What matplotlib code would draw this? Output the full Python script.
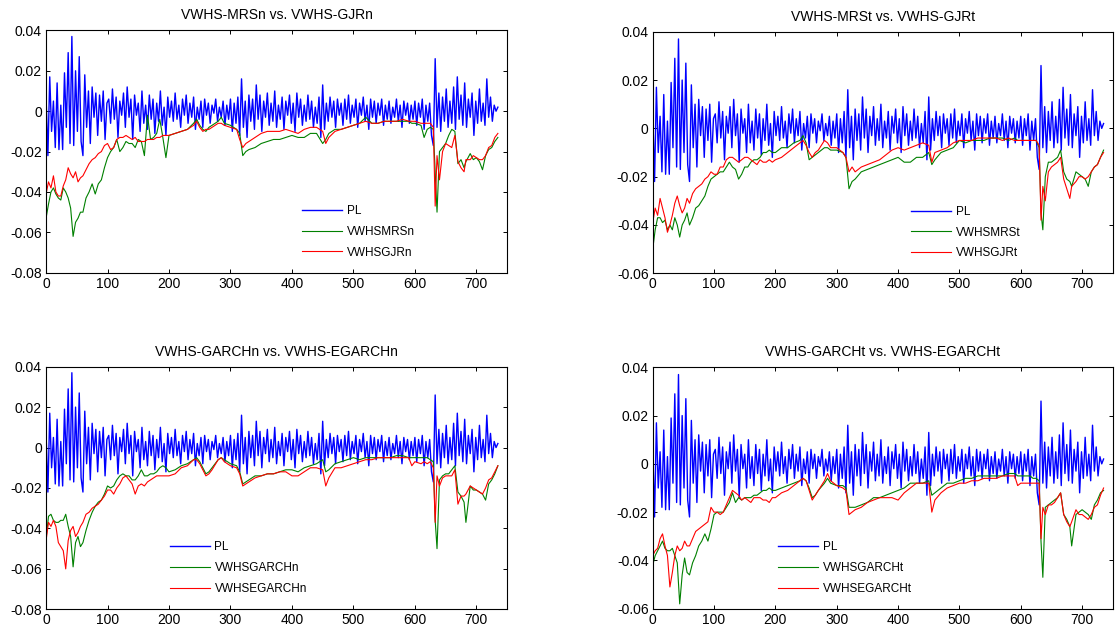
import numpy as np
import matplotlib
matplotlib.use('Agg')
from matplotlib import pyplot as plt
from matplotlib.ticker import FuncFormatter

plt.rcParams['font.family'] = ['Liberation Sans', 'DejaVu Sans']

# values are in units of 0.001

# portfolio P&L, sampled every third day
PL = [
    7, -22, 17, -10, 5, -18, 14, -19, 3, -19, 19, -8, 29, -16, 37, -17, 20,
    -10, 27, -15, -22, 18, -8, 10, -16, 12, -3, 9, -12, 8, -5, 10, -14, 4,
    6, -6, 11, -4, 7, -13, 5, -2, 9, -8, 12, -3, 6, -14, 8, -2, 4, -10, 10,
    -6, 3, -9, 8, -4, 6, -11, 4, -5, 10, -7, 2, -12, 7, -3, 5, -5, 9, -4, 3,
    -8, 6, -2, 8, -6, 4, -3, 7, -9, 2, -4,
    5, -8, 6, -2, 4, -6, 3, -1, 6, -5, 2, -3, 5, -7, 3, -4, 6, -10, 4, -6,
    7, -12, 16, -8, 5, -13, 8,
    -5, 6, -9, 13, -4, 8, -10, 5, -3, 9, -7, 4, -5, 10, -8, 3, -4, 7, -9, 5,
    -2, 8, -6, 4, -10, 9, -3, 6, -7, 3, -5, 8, -4, 5, -8, 2, -6, 7, -13, 13,
    -9, 4, -5, 7, -3, 5, -8, 6, -2, 4, -7, 6, -4, 8, -6, 3, -3, 6, -8, 4,
    -2, 7, -5, 3, -9, 6, -3, 5, -6, 4, -2, 6, -7, 3, -4, 5, -6, 2, -3, 6,
    -5, 3, -8, 5, -2, 4, -6, 3, -4, 5,
    -7, 4, -3, 6, -9, 3, -5, 4, -12, -17, 26, -8, 9, -10, 7, -5, 11, -8, 5,
    -6, 12, -9, 17, -4, 8, -7, 14, -8, 6, -3, 9, -12, 5, -6, 11, -5, 4, -7,
    16, -3, 7, -5, 3, 0, 2,
]

VAR_DAYS = [
    0, 4, 8, 12, 16, 20, 24, 28, 32, 36,
    40, 44, 48, 52, 56, 60, 65, 70, 75, 80,
    85, 90, 95, 100, 105, 110, 115, 120, 125, 130,
    135, 140, 145, 150, 155, 160, 165, 170, 175, 180,
    185, 190, 195, 200, 210, 220, 230, 240, 245, 250,
    255, 260, 265, 270, 280, 285, 290, 300, 310, 315,
    320, 325, 330, 340, 350, 360, 370, 380, 390, 400,
    410, 420, 430, 440, 450, 455, 460, 470, 480, 490,
    500, 510, 520, 530, 540, 550, 560, 570, 580, 590,
    595, 600, 610, 615, 620, 625, 630, 633, 636, 640,
    645, 650, 655, 660, 665, 670, 675, 680, 683, 690,
    695, 700, 705, 710, 715, 720, 725, 730, 735,
]

VWHS_MRSN = [
    -53, -46, -40, -38, -41, -43, -44, -38, -40, -43,
    -48, -62, -55, -53, -50, -50, -43, -40, -36, -41,
    -36, -34, -28, -23, -20, -18, -14, -20, -18, -15,
    -16, -16, -18, -14, -15, -22, -2, -14, -13, -11,
    -4, -13, -23, -12, -11, -10, -9, -6, -4, -7,
    -9, -10, -8, -7, -5, -3, -6, -7, -9, -11,
    -22, -20, -19, -18, -16, -15, -14, -14, -13, -12,
    -13, -13, -11, -11, -16, -14, -11, -9, -9, -8,
    -7, -6, -3, -6, -6, -5, -5, -5, -5, -5,
    -6, -6, -7, -13, -9, -8, -9, -30, -50, -20,
    -18, -16, -12, -9, -10, -26, -24, -28, -25, -21,
    -24, -23, -25, -29, -22, -19, -18, -15, -13,
]
VWHS_GJRN = [
    -41, -35, -38, -32, -40, -42, -42, -37, -34, -28,
    -31, -33, -30, -35, -33, -32, -29, -26, -24, -23,
    -21, -20, -17, -16, -19, -18, -14, -13, -13, -12,
    -13, -14, -13, -15, -15, -15, -14, -14, -14, -13,
    -13, -12, -12, -12, -11, -10, -9, -7, -5, -8,
    -10, -9, -9, -8, -6, -6, -7, -8, -9, -14,
    -18, -16, -15, -13, -11, -10, -10, -10, -9, -10,
    -11, -9, -8, -8, -10, -16, -13, -10, -9, -8,
    -7, -6, -5, -6, -6, -5, -5, -5, -4, -5,
    -5, -5, -6, -6, -6, -6, -8, -47, -22, -34,
    -20, -16, -17, -18, -12, -25, -28, -30, -24, -24,
    -22, -23, -24, -24, -22, -18, -17, -13, -11,
]
VWHS_MRST = [
    -50, -42, -37, -37, -39, -38, -42, -40, -42, -37,
    -40, -45, -40, -38, -35, -40, -37, -33, -32, -30,
    -28, -24, -21, -20, -19, -18, -18, -16, -14, -16,
    -17, -21, -19, -16, -16, -14, -13, -13, -12, -10,
    -10, -9, -10, -10, -8, -8, -6, -5, -3, -6,
    -13, -12, -11, -10, -8, -8, -9, -9, -10, -12,
    -25, -22, -21, -18, -17, -16, -15, -14, -13, -12,
    -14, -14, -12, -12, -10, -15, -13, -10, -9, -8,
    -5, -6, -5, -5, -5, -4, -4, -4, -5, -4,
    -5, -5, -5, -5, -5, -5, -8, -35, -42, -20,
    -14, -14, -13, -12, -9, -18, -21, -22, -24, -18,
    -19, -20, -21, -24, -18, -16, -15, -12, -9,
]
VWHS_GJRT = [
    -39, -33, -36, -29, -33, -37, -43, -40, -36, -31,
    -28, -32, -35, -33, -29, -31, -27, -25, -24, -23,
    -21, -20, -18, -19, -19, -16, -16, -13, -12, -12,
    -13, -14, -13, -12, -12, -13, -14, -15, -13, -14,
    -14, -13, -14, -13, -12, -10, -8, -6, -5, -7,
    -10, -12, -10, -9, -5, -6, -8, -8, -10, -12,
    -18, -16, -18, -16, -15, -14, -13, -11, -9, -8,
    -9, -8, -7, -6, -7, -14, -10, -9, -8, -6,
    -5, -5, -5, -4, -4, -4, -4, -5, -4, -5,
    -5, -5, -5, -5, -5, -5, -7, -38, -24, -30,
    -18, -16, -15, -14, -12, -21, -25, -29, -24, -22,
    -20, -20, -21, -20, -18, -16, -15, -12, -10,
]
VWHS_GARCHN = [
    -45, -34, -33, -36, -37, -37, -36, -36, -33, -39,
    -44, -59, -47, -44, -49, -47, -41, -36, -32, -29,
    -27, -26, -23, -19, -20, -19, -16, -14, -13, -14,
    -14, -16, -16, -14, -11, -14, -14, -13, -13, -12,
    -10, -9, -10, -12, -11, -9, -8, -6, -5, -7,
    -10, -13, -12, -10, -6, -5, -6, -8, -9, -12,
    -18, -17, -16, -14, -14, -13, -13, -12, -11, -11,
    -12, -10, -9, -8, -6, -12, -11, -8, -7, -6,
    -5, -6, -5, -5, -5, -5, -5, -4, -4, -5,
    -5, -5, -5, -5, -5, -6, -7, -36, -50, -16,
    -14, -13, -13, -11, -9, -22, -24, -27, -37, -19,
    -21, -21, -22, -23, -26, -18, -16, -13, -9,
]
VWHS_EGARCHN = [
    -46, -37, -39, -36, -39, -47, -49, -51, -60, -46,
    -41, -39, -44, -42, -39, -37, -33, -32, -30, -29,
    -28, -26, -24, -21, -21, -23, -20, -18, -15, -14,
    -16, -18, -23, -19, -18, -19, -17, -16, -15, -14,
    -14, -14, -14, -14, -13, -10, -9, -6, -6, -8,
    -11, -14, -13, -11, -6, -5, -7, -9, -10, -13,
    -19, -18, -17, -15, -14, -13, -13, -12, -12, -14,
    -14, -12, -10, -10, -11, -19, -15, -10, -10, -9,
    -8, -7, -6, -6, -5, -5, -5, -5, -5, -5,
    -9, -7, -8, -7, -8, -7, -10, -37, -14, -19,
    -15, -14, -14, -14, -11, -28, -24, -24, -23, -19,
    -20, -21, -22, -23, -20, -16, -15, -12, -9,
]
VWHS_GARCHT = [
    -42, -38, -36, -34, -32, -35, -36, -36, -35, -38,
    -41, -58, -46, -39, -45, -46, -41, -38, -34, -32,
    -29, -32, -27, -21, -20, -20, -20, -18, -16, -12,
    -16, -14, -15, -14, -14, -14, -13, -13, -12, -11,
    -11, -10, -11, -11, -10, -9, -8, -7, -6, -7,
    -10, -14, -13, -11, -8, -6, -8, -9, -9, -10,
    -18, -18, -18, -17, -16, -14, -14, -13, -12, -11,
    -10, -8, -8, -8, -7, -13, -12, -10, -8, -8,
    -7, -6, -6, -5, -5, -5, -5, -5, -4, -4,
    -5, -5, -5, -5, -6, -6, -7, -32, -47, -18,
    -17, -16, -15, -14, -12, -21, -23, -26, -34, -21,
    -20, -19, -20, -21, -23, -17, -15, -12, -11,
]
VWHS_EGARCHT = [
    -38, -36, -35, -31, -29, -34, -38, -51, -45, -38,
    -34, -36, -35, -32, -34, -34, -31, -28, -27, -26,
    -25, -24, -18, -20, -20, -21, -20, -17, -14, -11,
    -12, -13, -15, -14, -15, -16, -14, -14, -14, -15,
    -15, -16, -14, -14, -12, -11, -9, -7, -6, -7,
    -11, -15, -13, -11, -7, -4, -7, -9, -10, -11,
    -21, -20, -19, -18, -16, -15, -14, -14, -14, -15,
    -12, -10, -8, -8, -8, -20, -15, -12, -10, -9,
    -8, -8, -7, -7, -6, -6, -6, -5, -5, -5,
    -9, -8, -8, -8, -8, -8, -8, -31, -18, -21,
    -17, -17, -16, -14, -12, -21, -24, -26, -24, -19,
    -21, -21, -22, -23, -21, -18, -17, -13, -10,
]

TITLES = ['VWHS-MRSn vs. VWHS-GJRn', 'VWHS-MRSt vs. VWHS-GJRt',
          'VWHS-GARCHn vs. VWHS-EGARCHn', 'VWHS-GARCHt vs. VWHS-EGARCHt']
LABELS = [('VWHSMRSn', 'VWHSGJRn'), ('VWHSMRSt', 'VWHSGJRt'),
          ('VWHSGARCHn', 'VWHSEGARCHn'), ('VWHSGARCHt', 'VWHSEGARCHt')]
SERIES = [(VWHS_MRSN, VWHS_GJRN), (VWHS_MRST, VWHS_GJRT),
          (VWHS_GARCHN, VWHS_EGARCHN), (VWHS_GARCHT, VWHS_EGARCHT)]

# layout: axes rectangles, y ranges and legend anchors
RECTS = [[0.0413, 0.565, 0.4135, 0.3865], [0.5854, 0.5641, 0.4126, 0.3853],
         [0.0413, 0.0282, 0.4135, 0.387], [0.5854, 0.0292, 0.4126, 0.385]]
YLIMS = [(-0.08, 0.04), (-0.06, 0.04), (-0.08, 0.04), (-0.06, 0.04)]
LEG_X = [0.555, 0.562, 0.268, 0.273]


def draw_panel(fig, rect, title, labels, series, ylim, leg_x):
    ax = fig.add_axes(rect)
    pl = np.array(PL) / 1000
    days = np.arange(len(pl)) * 3
    ax.plot(days, pl, color='#0000ff', lw=1.0, label='PL')
    ax.plot(VAR_DAYS, np.array(series[0]) / 1000, color='#008000', lw=0.8, label=labels[0])
    ax.plot(VAR_DAYS, np.array(series[1]) / 1000, color='#ff0000', lw=0.8, label=labels[1])

    ax.set_xlim(0, 750)
    ax.set_ylim(*ylim)
    ax.set_xticks(np.arange(0, 701, 100))
    ax.set_yticks(np.arange(ylim[0], ylim[1] + 0.001, 0.02))
    ax.yaxis.set_major_formatter(FuncFormatter(lambda v, p: '%g' % round(v, 3)))
    ax.tick_params(direction='in', top=True, right=True, length=3, width=0.7,
                   labelsize=10, pad=3)
    for s in ax.spines.values():
        s.set_linewidth(0.8)
    ax.set_title(title, fontsize=10, pad=8)
    ax.legend(loc='upper left', bbox_to_anchor=(leg_x, 0.28), frameon=False,
              fontsize=8.5, handlelength=3.4, handletextpad=0.4, labelspacing=0.75,
              borderpad=0, borderaxespad=0)


def main():
    fig = plt.figure(figsize=(11.15, 6.27), dpi=100)
    for i in range(4):
        draw_panel(fig, RECTS[i], TITLES[i], LABELS[i], SERIES[i], YLIMS[i], LEG_X[i])
    fig.savefig('out.png', dpi=100)


if __name__ == '__main__':
    main()
